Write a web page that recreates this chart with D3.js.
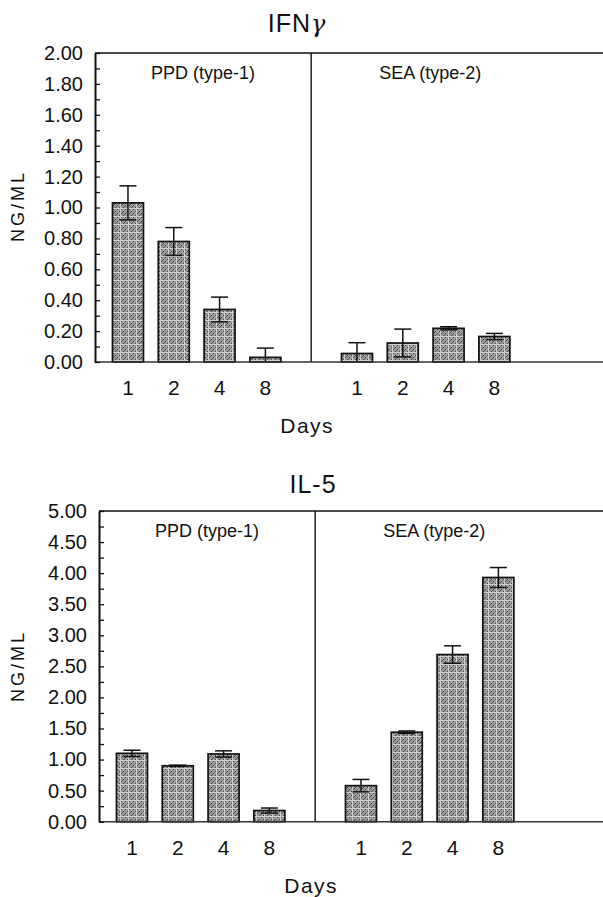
<!DOCTYPE html>
<html>
<head>
<meta charset="utf-8">
<script src="https://cdn.jsdelivr.net/npm/d3@7"></script>
<style>
  body { margin: 0; background: #fff; }
  text { font-family: "Liberation Sans", Arial, sans-serif; fill: #111; }
</style>
</head>
<body>
<svg id="chart" width="603" height="897"></svg>
<script>
// days on the x axis, same for both panels
var days = ["1", "2", "4", "8"];
var panels = ["PPD (type-1)", "SEA (type-2)"];

// IFN-gamma, ng/ml (mean and error)
var ifnPPD = [1.03, 0.78, 0.34, 0.03];
var ifnPPDerr = [0.11, 0.09, 0.08, 0.06];
var ifnSEA = [0.055, 0.123, 0.218, 0.165];
var ifnSEAerr = [0.07, 0.09, 0.01, 0.02];

// IL-5, ng/ml
var il5PPD = [1.10, 0.90, 1.09, 0.18];
var il5PPDerr = [0.05, 0.01, 0.05, 0.04];
var il5SEA = [0.58, 1.44, 2.69, 3.93];
var il5SEAerr = [0.10, 0.02, 0.14, 0.16];

var ifnTicks = [0, 0.2, 0.4, 0.6, 0.8, 1.0, 1.2, 1.4, 1.6, 1.8, 2.0];
var il5Ticks = [0, 0.5, 1.0, 1.5, 2.0, 2.5, 3.0, 3.5, 4.0, 4.5, 5.0];

var svg = d3.select("#chart");

// stippled grey fill like the scanned bars
var defs = svg.append("defs");
var pat = defs.append("pattern")
    .attr("id", "stipple")
    .attr("patternUnits", "userSpaceOnUse")
    .attr("width", 8).attr("height", 8);
pat.append("rect").attr("width", 8).attr("height", 8).attr("fill", "#9a9a9a");
[[1,1],[3,3],[5,1],[7,3],[1,5],[3,7],[5,5],[7,7],[2,4],[6,0],[4,6],[0,2]].forEach(function (p) {
    pat.append("rect").attr("x", p[0]).attr("y", p[1])
        .attr("width", 1).attr("height", 1).attr("fill", "#4a4a4a");
});
pat.append("rect").attr("x", 0).attr("y", 0).attr("width", 8).attr("height", 1).attr("fill", "#cfcfcf");
pat.append("rect").attr("x", 0).attr("y", 0).attr("width", 1).attr("height", 8).attr("fill", "#cfcfcf");

function drawChart(opt) {
    var g = svg.append("g");

    // slot scale: 0..3 left bars, 4 divider, 5..8 right bars
    var x = d3.scaleLinear()
        .domain([-0.72, 0, 11])
        .range([opt.left, opt.left + 0.72 * 45.8, opt.left + 0.72 * 45.8 + 11 * 45.8]);
    var y = d3.scaleLinear().domain([0, opt.max]).range([opt.bottom, opt.top]);
    var bw = 31;

    var rows = [];
    days.forEach(function (d, i) {
        rows.push({slot: i, v: opt.a[i], e: opt.aErr[i]});
    });
    days.forEach(function (d, i) {
        rows.push({slot: i + 5, v: opt.b[i], e: opt.bErr[i]});
    });

    // title
    var t = g.append("text")
        .attr("x", opt.titleX).attr("y", opt.titleY)
        .attr("text-anchor", "middle")
        .style("font-size", "25px")
        .style("letter-spacing", "1px");
    t.append("tspan").text(opt.title);
    if (opt.greek) {
        t.append("tspan")
            .style("font-family", "DejaVu Serif, serif")
            .style("font-style", "italic")
            .style("font-size", "24px")
            .text(opt.greek);
    }

    // bars
    g.selectAll("rect.bar").data(rows).enter().append("rect")
        .attr("class", "bar")
        .attr("x", function (d) { return x(d.slot) - bw / 2; })
        .attr("y", function (d) { return y(d.v); })
        .attr("width", bw)
        .attr("height", function (d) { return y(0) - y(d.v); })
        .attr("fill", "url(#stipple)")
        .attr("stroke", "#111")
        .attr("stroke-width", 1.7);

    // error bars
    var eb = g.selectAll("g.err").data(rows).enter().append("g").attr("class", "err")
        .attr("stroke", "#111").attr("stroke-width", 1.5);
    eb.append("line")
        .attr("x1", function (d) { return x(d.slot); })
        .attr("x2", function (d) { return x(d.slot); })
        .attr("y1", function (d) { return y(d.v + d.e); })
        .attr("y2", function (d) { return y(Math.max(0, d.v - d.e)); });
    eb.append("line")
        .attr("x1", function (d) { return x(d.slot) - 8.5; })
        .attr("x2", function (d) { return x(d.slot) + 8.5; })
        .attr("y1", function (d) { return y(d.v + d.e); })
        .attr("y2", function (d) { return y(d.v + d.e); });
    eb.filter(function (d) { return d.v - d.e > 0; }).append("line")
        .attr("x1", function (d) { return x(d.slot) - 8.5; })
        .attr("x2", function (d) { return x(d.slot) + 8.5; })
        .attr("y1", function (d) { return y(d.v - d.e); })
        .attr("y2", function (d) { return y(d.v - d.e); });

    // frame: top, divider, bottom
    g.append("line").attr("x1", x(-0.72)).attr("x2", 603)
        .attr("y1", y(opt.max)).attr("y2", y(opt.max))
        .attr("stroke", "#111").attr("stroke-width", 1.6);
    g.append("line").attr("x1", x(4)).attr("x2", x(4))
        .attr("y1", y(opt.max)).attr("y2", y(0))
        .attr("stroke", "#111").attr("stroke-width", 1.4);
    g.append("line").attr("x1", x(-0.72)).attr("x2", 603)
        .attr("y1", y(0)).attr("y2", y(0))
        .attr("stroke", "#333").attr("stroke-width", 1.6);

    // y axis with inward ticks and half-step minor ticks
    var minor = [];
    for (var k = 0; k < opt.ticks.length - 1; k++) {
        minor.push((opt.ticks[k] + opt.ticks[k + 1]) / 2);
    }
    var yAxis = d3.axisLeft(y).tickValues(opt.ticks).tickFormat(d3.format(".2f"))
        .tickSizeInner(-5).tickSizeOuter(0).tickPadding(12);
    var ax = g.append("g").attr("transform", "translate(" + x(-0.72) + ",0)").call(yAxis);
    ax.select(".domain").attr("stroke", "#111").attr("stroke-width", 2);
    ax.selectAll(".tick line").attr("stroke", "#111").attr("stroke-width", 1.3);
    ax.selectAll(".tick text").style("font-size", "20px").style("font-family", "Liberation Sans, Arial, sans-serif").attr("fill", "#111");
    var mAxis = d3.axisLeft(y).tickValues(minor).tickFormat("").tickSizeInner(-5).tickSizeOuter(0);
    var mx = g.append("g").attr("transform", "translate(" + x(-0.72) + ",0)").call(mAxis);
    mx.select(".domain").remove();
    mx.selectAll(".tick line").attr("stroke", "#111").attr("stroke-width", 1.3);

    // panel labels
    g.selectAll("text.panel").data(panels).enter().append("text")
        .attr("class", "panel")
        .attr("x", function (d, i) { return i === 0 ? (x(-0.72) + x(4)) / 2 : x(6.6); })
        .attr("y", y(opt.max) + 26)
        .attr("text-anchor", "middle")
        .style("font-size", "18px")
        .text(function (d) { return d; });

    // day labels under each panel
    var dayRows = rows.map(function (r, i) { return {slot: r.slot, t: days[i % 4]}; });
    g.selectAll("text.day").data(dayRows).enter().append("text")
        .attr("class", "day")
        .attr("x", function (d) { return x(d.slot); })
        .attr("y", y(0) + 33)
        .attr("text-anchor", "middle")
        .style("font-size", "21px")
        .text(function (d) { return d.t; });

    g.append("text")
        .attr("x", x(4) - 4).attr("y", y(0) + 71)
        .attr("text-anchor", "middle")
        .style("font-size", "21px")
        .style("letter-spacing", "1.5px")
        .text("Days");

    g.append("text")
        .attr("transform", "translate(" + opt.ylabX + "," + opt.ylabY + ") rotate(-90)")
        .attr("text-anchor", "middle")
        .style("font-size", "18px")
        .style("letter-spacing", "3px")
        .text("NG/ML");
}

drawChart({
    title: "IFN", greek: "\u03B3", titleX: 297, titleY: 32,
    left: 95, top: 53, bottom: 362, max: 2, ticks: ifnTicks,
    a: ifnPPD, aErr: ifnPPDerr, b: ifnSEA, bErr: ifnSEAerr,
    ylabX: 24, ylabY: 206
});
drawChart({
    title: "IL-5", titleX: 313, titleY: 493,
    left: 99, top: 511, bottom: 821.7, max: 5, ticks: il5Ticks,
    a: il5PPD, aErr: il5PPDerr, b: il5SEA, bErr: il5SEAerr,
    ylabX: 24, ylabY: 666
});
</script>
</body>
</html>
